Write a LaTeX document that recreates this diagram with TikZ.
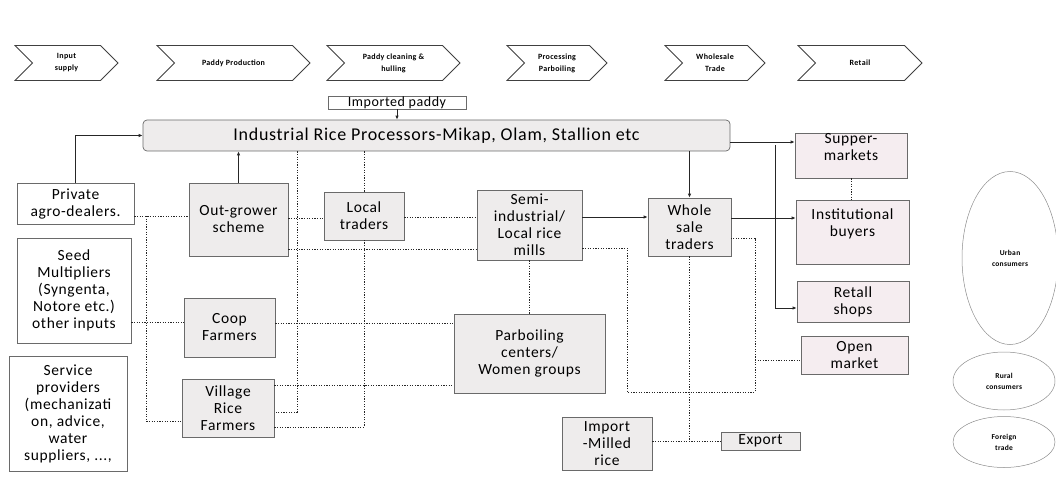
\documentclass[tikz,border=0pt]{standalone}
\usepackage{fontspec}
\setmainfont{Carlito}
\newfontfamily\boxfont[LetterSpace=4]{Carlito}
\usetikzlibrary{arrows.meta,shapes.symbols,shapes.geometric}
\definecolor{boxgray}{HTML}{EEECEC}
\definecolor{boxpink}{HTML}{F5EDF0}
\definecolor{edge}{HTML}{6A6A6A}
\begin{document}
\begin{tikzpicture}[x=1pt,y=-1pt,>={Latex[length=4pt,width=3.5pt]},
  box/.style={draw=edge,line width=.7pt,fill=boxgray,inner sep=1pt,align=center,font=\boxfont\fontsize{15.5}{17}\selectfont},
  wbox/.style={box,fill=white},pbox/.style={box,fill=boxpink},
  chev/.style={signal,signal from=west,signal to=east,draw=black!75,line width=.8pt,minimum height=35pt,inner sep=0pt,align=center,font=\boxfont\bfseries\fontsize{8}{12}\selectfont},
  oval/.style={ellipse,draw=black!45,line width=.5pt,inner sep=0pt,align=center,font=\boxfont\bfseries\fontsize{7.5}{11}\selectfont},
  sol/.style={->,black!85,line width=.8pt},dot/.style={black!85,line width=.9pt,dash pattern=on 1.2pt off 1.4pt}]
\useasboundingbox (0,0) rectangle (1056,481);
% value chain stages
\foreach \n/\cx/\w/\t in {c1/66.5/103/{Input\\supply},c2/233.5/153/{Paddy Production},c3/393.5/133/{Paddy cleaning \&\\hulling},c4/557/100/{Processing\\Parboiling},c5/715/100/{Wholesale\\Trade},c6/860/124/{Retail}}
  \node[chev,minimum width=\w pt] (\n) at (\cx,63) {\t};
% actors
\node[box,rounded corners=4pt,minimum width=587pt,minimum height=31pt,font=\boxfont\fontsize{18}{18}\selectfont] (irp) at (436.5,135.5) {Industrial Rice Processors-Mikap, Olam, Stallion etc};
\node[draw=edge,line width=.5pt,inner sep=0pt,minimum width=138pt,minimum height=13pt,font=\boxfont\fontsize{14}{14}\selectfont] (impd) at (397,102.5) {Imported paddy};
\node[wbox,minimum width=117pt,minimum height=41pt] (priv) at (75.5,203.5) {Private\\agro-dealers.};
\node[wbox,minimum width=114pt,minimum height=105pt] (seed) at (74,290.5) {Seed\\Multipliers\\(Syngenta,\\Notore etc.)\\other inputs};
\node[wbox,minimum width=118pt,minimum height=115pt] (serv) at (68,413.5) {Service\\providers\\(mechanizati\\on, advice,\\water\\suppliers, ...,};
\node[box,minimum width=99pt,minimum height=73pt] (outg) at (238.5,219.5) {Out-grower\\scheme};
\node[box,minimum width=80pt,minimum height=48pt] (loct) at (364,216) {Local\\traders};
\node[box,minimum width=105pt,minimum height=70pt] (semi) at (529.5,225) {Semi-\\industrial/\\Local rice\\mills};
\node[box,minimum width=83pt,minimum height=58pt] (whs) at (689.5,227) {Whole\\sale\\traders};
\node[box,minimum width=91pt,minimum height=59pt] (coop) at (229.5,327.5) {Coop\\Farmers};
\node[box,minimum width=92pt,minimum height=58pt] (vill) at (228,408) {Village\\Rice\\Farmers};
\node[box,minimum width=151pt,minimum height=79pt] (parb) at (529.5,353.5) {Parboiling\\centers/\\Women groups};
\node[box,minimum width=90pt,minimum height=53pt] (imp) at (607,443.5) {Import\\-Milled\\rice};
\node[box,minimum width=79pt,minimum height=18pt] (expt) at (760.5,441) {Export};
\node[pbox,minimum width=112pt,minimum height=45pt,label={[box,draw=none,fill=none,anchor=north,yshift=1pt]north:Supper-\\markets}] (supm) at (851,155.5) {};
\node[pbox,minimum width=113pt,minimum height=64pt,label={[box,draw=none,fill=none,anchor=north,yshift=-8pt]north:Institutional\\buyers}] (inst) at (852.5,232) {};
\node[pbox,minimum width=112pt,minimum height=41pt] (rtl) at (853,301.5) {Retall\\shops};
\node[pbox,minimum width=107pt,minimum height=38pt] (opm) at (854.5,355) {Open\\market};
% consumers
\node[oval,minimum width=96pt,minimum height=173pt] (urb) at (1010,258) {Urban\\consumers};
\node[oval,minimum width=102pt,minimum height=58pt] (rur) at (1004,381) {Rural\\consumers};
\node[oval,minimum width=102pt,minimum height=51pt] (frn) at (1004,442) {Foreign\\trade};
% solid flows
\draw[sol] (priv.north) |- (irp.west);\draw[sol] (outg.north) -- (outg.north|-irp.south);\draw[sol] (impd.south) -- (impd.south|-irp.north);
\draw[sol] (whs.north|-irp.south) -- (whs.north);\draw[sol] (semi.east|-0,217) -- (whs.west|-0,217);
\draw[sol] (irp.east|-0,142) -- (supm.west|-0,142);\draw[sol] (whs.east|-0,218) -- (inst.west|-0,218);
\coordinate (jn) at (775,145);\draw[sol] (jn) |- (rtl.west|-0,308);
% dotted flows
\coordinate (ja) at (146,216);\coordinate (lp) at (755,392);\coordinate (jo) at (755,360);
\draw[dot] (priv.east|-0,216) -- (outg.west|-0,216);\draw[dot] (ja) |- (vill.west|-0,421);
\draw[dot] (seed.east|-0,322) -- (coop.west|-0,322);\draw[dot] (irp.south-|297,0) |- (vill.east|-0,412);
\draw[dot] (outg.east|-0,218) -- (loct.west|-0,218);\draw[dot] (outg.east|-0,249) -- (semi.west|-0,249);
\draw[dot] (irp.south-|loct.north) -- (loct.north);\draw[dot] (loct.east|-0,217) -- (semi.west|-0,217);
\draw[dot] (vill.east|-0,427) -| (loct.south);\draw[dot] (coop.east|-0,323) -- (parb.west|-0,323);
\draw[dot] (vill.east|-0,385) -- (parb.west|-0,385);\draw[dot] (semi.south) -- (parb.north);
\draw[dot] (semi.east|-0,248) -| (627,392) -- (lp) |- (whs.east|-0,238);\draw[dot] (jo) -- (opm.west|-0,360);
\draw[dot] (whs.south) -- (whs.south|-0,441);\draw[dot] (imp.east|-0,441) -- (expt.west);
\draw[dot] (supm.south) -- (supm.south|-inst.north);
\end{tikzpicture}
\end{document}
